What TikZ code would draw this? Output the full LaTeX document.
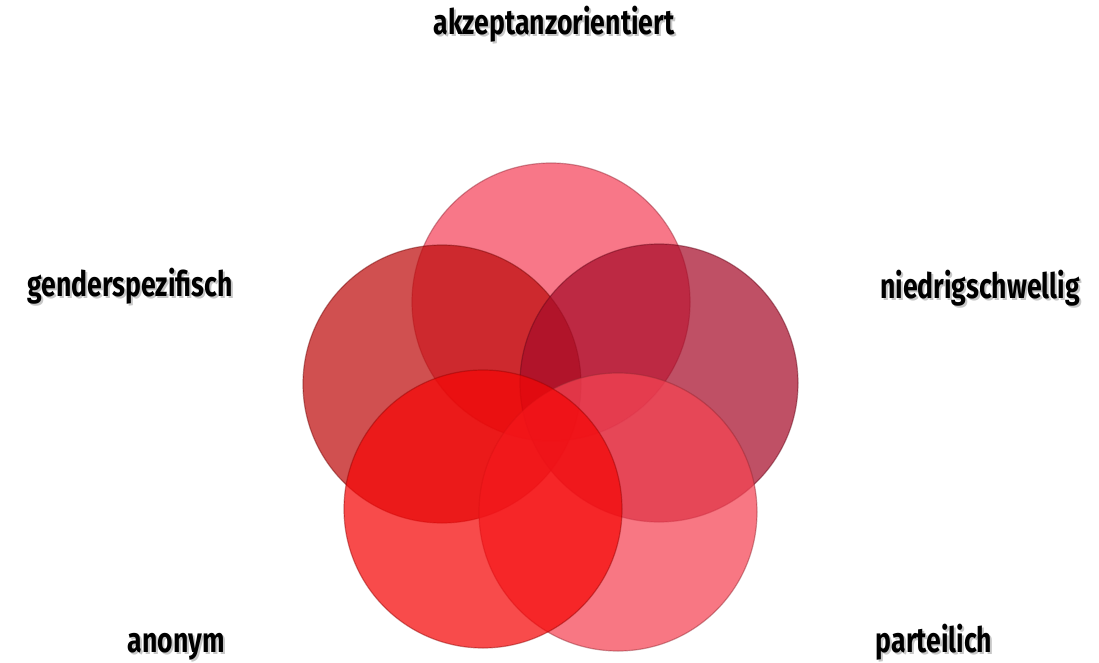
\documentclass[tikz,border=0pt]{standalone}
\usepackage{fontspec}
\setmainfont{Fira Sans}[FakeStretch=0.76]
\definecolor{cTop}{RGB}{245,67,90}
\definecolor{cLeft}{RGB}{190,12,12}
\definecolor{cRight}{RGB}{167,12,41}
\definecolor{cBL}{RGB}{245,6,6}
\definecolor{cBR}{RGB}{245,67,83}
\tikzset{
  disc/.style={circle, minimum size=278pt, inner sep=0pt, fill opacity=0.72, draw opacity=0.45, line width=1.2pt},
  lbl/.style={anchor=base, inner sep=0pt, font=\fontsize{35}{38}\selectfont\bfseries, text=black},
  shd/.style={anchor=base, inner sep=0pt, font=\fontsize{35}{38}\selectfont\bfseries, text=black, text opacity=0.22}
}
\begin{document}
\begin{tikzpicture}[x=1pt,y=-1pt]
\useasboundingbox (0,0) rectangle (1099,663);
\node[disc, fill=cTop, draw=cTop!60!black] (top) at (551,302) {};
\node[disc, fill=cLeft, draw=cLeft!60!black] (left) at (442,384) {};
\node[disc, fill=cRight, draw=cRight!60!black] (right) at (659,383) {};
\node[disc, fill=cBR, draw=cBR!60!black] (br) at (618,512) {};
\node[disc, fill=cBL, draw=cBL!60!black] (bl) at (483,509) {};
% shadows
\node[shd] (s1) at (556,37) {akzeptanzorientiert};
\node[shd] (s2) at (132,298) {genderspezifisch};
\node[shd] (s3) at (982,300) {niedrigschwellig};
\node[shd] (s4) at (178,654) {anonym};
\node[shd] (s5) at (936,654) {parteilich};
% labels
\node[lbl] (t1) at (554,35) {akzeptanzorientiert};
\node[lbl] (t2) at (130,296) {genderspezifisch};
\node[lbl] (t3) at (980,298) {niedrigschwellig};
\node[lbl] (t4) at (176,652) {anonym};
\node[lbl] (t5) at (934,652) {parteilich};
\end{tikzpicture}
\end{document}
